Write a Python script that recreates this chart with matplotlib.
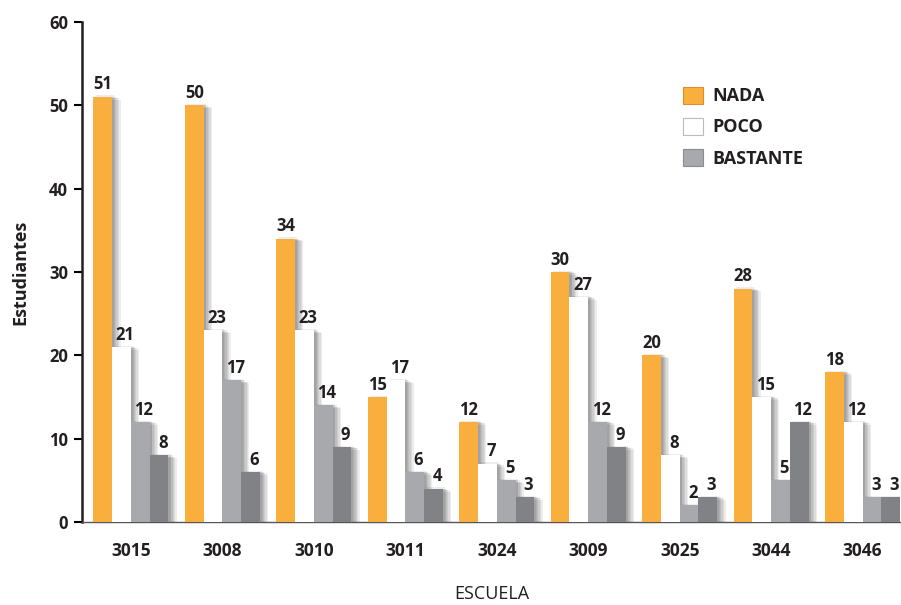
import numpy as np
import matplotlib.pyplot as plt
from matplotlib.patches import Patch
import matplotlib.patheffects as pe

escuelas = ['3015', '3008', '3010', '3011', '3024', '3009', '3025', '3044', '3046']
nada = [51, 50, 34, 15, 12, 30, 20, 28, 18]
poco = [21, 23, 23, 17, 7, 27, 8, 15, 12]
bastante = [12, 17, 14, 6, 5, 12, 2, 5, 3]
mucho = [8, 6, 9, 4, 3, 9, 3, 12, 3]

series = [nada, poco, bastante, mucho]
colores = ['#F9AE3E', '#FFFFFF', '#A7A9AC', '#808285']

plt.rcParams['font.family'] = ['Open Sans', 'DejaVu Sans']

fig = plt.figure(figsize=(9.01, 6.05), dpi=100)
ax = fig.add_axes([0.091, 0.137, 0.908, 0.827])

x = np.arange(len(escuelas))
w = 0.205
# soft drop shadow: several faint copies stacked to the right
sombra = [pe.SimplePatchShadow(offset=(dx, dy), shadow_rgbFace='#000000', alpha=0.07)
          for dx, dy in [(6, -2), (5, -1), (4, -1), (3, 0), (2, 0), (1.5, 1)]]
sombra.append(pe.Normal())
for i, (vals, c) in enumerate(zip(series, colores)):
    pos = x + (i - 1.5) * w
    bars = ax.bar(pos, vals, w, color=c, linewidth=0, zorder=3 + i * 0.1)
    for b in bars:
        b.set_path_effects(sombra)
    dx = 0 if i == 0 else 0.04
    for p, v in zip(pos, vals):
        ax.text(p + dx, v + 0.4, str(v), ha='center', va='bottom',
                fontsize=12, fontweight='bold', color='#231F20', zorder=5)

ax.set_xlim(-0.535, 8.41)
ax.set_ylim(0, 60)
ax.set_yticks(range(0, 61, 10))
ax.set_xticks(x)
ax.set_xticklabels(escuelas)
ax.tick_params(axis='x', length=0, pad=14, labelsize=12.5)
ax.tick_params(axis='y', direction='out', length=6, width=1.5, labelsize=12, pad=4)
for lab in ax.get_xticklabels() + ax.get_yticklabels():
    lab.set_fontweight('bold')
    lab.set_color('#231F20')

for s in ['top', 'right']:
    ax.spines[s].set_visible(False)
ax.spines['left'].set_linewidth(1.8)
ax.spines['left'].set_color('#231F20')
ax.spines['bottom'].set_linewidth(1.0)
ax.spines['bottom'].set_color('#555555')

ax.set_ylabel('Estudiantes', fontsize=13, fontweight='bold', color='#231F20', labelpad=14)
fig.text(0.546, 0.003, 'ESCUELA', ha='center', va='bottom', fontsize=13, color='#231F20')

handles = [Patch(facecolor=colores[0], edgecolor='#D9902A', linewidth=0.8),
           Patch(facecolor=colores[1], edgecolor='#BBBBBB', linewidth=0.8),
           Patch(facecolor=colores[2], edgecolor='#8A8C8F', linewidth=0.8)]
leg = ax.legend(handles, ['NADA', 'POCO', 'BASTANTE'], loc='upper left',
                bbox_to_anchor=(0.715, 0.903), frameon=False, fontsize=13,
                handlelength=1.1, handleheight=1.1, handletextpad=0.5, labelspacing=0.68)
for t in leg.get_texts():
    t.set_fontweight('bold')
    t.set_color('#231F20')

fig.savefig('out.png', dpi=100)
